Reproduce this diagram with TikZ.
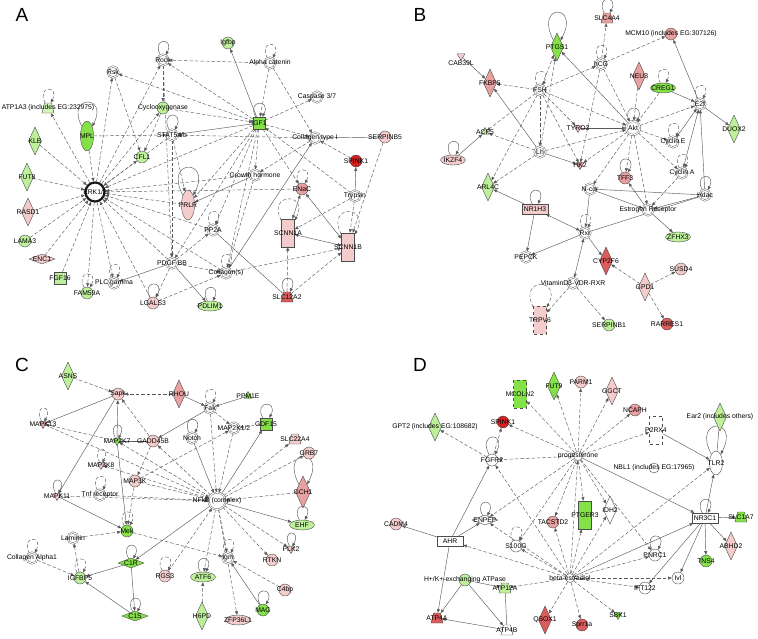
\documentclass[tikz,border=0pt]{standalone}
\usepackage{fontspec}
\setmainfont{Liberation Sans}
\usetikzlibrary{arrows.meta, shapes.geometric, backgrounds}
\usepackage{xcolor}
\definecolor{edgec}{RGB}{90,90,90}
\definecolor{gA}{RGB}{132,226,72}
\definecolor{gB}{RGB}{190,240,155}
\definecolor{gC}{RGB}{208,246,184}
\definecolor{pL}{RGB}{244,204,204}
\definecolor{pM}{RGB}{232,160,160}
\definecolor{rM}{RGB}{218,92,92}
\definecolor{rD}{RGB}{214,32,32}
\tikzset{
  lbl/.style  = {font=\fontsize{6.8}{7}\selectfont, inner sep=0pt, text=black},
  lb/.style   = {label={[lbl]center:#1}},
  gene/.style = {draw=gray!60!black, line width=0.4pt, inner sep=1pt},
  cn/.style   = {gene, circle, minimum size=12pt, fill=#1},
  en/.style   = {gene, ellipse, minimum width=25pt, minimum height=10pt, fill=#1},
  ven/.style  = {gene, ellipse, minimum width=13pt, minimum height=30pt, fill=#1},
  dn/.style   = {gene, diamond, minimum width=13pt, minimum height=28pt, fill=#1},
  hdn/.style  = {gene, diamond, minimum width=26pt, minimum height=10pt, fill=#1},
  sq/.style   = {gene, rectangle, minimum size=12pt, fill=#1},
  tall/.style = {gene, rectangle, minimum width=13pt, minimum height=28pt, fill=#1},
  flat/.style = {gene, rectangle, minimum width=26pt, minimum height=10pt, fill=#1},
  tri/.style  = {gene, regular polygon, regular polygon sides=3, inner sep=0pt,
                 minimum size=9pt, fill=#1},
  vtri/.style = {tri=#1, shape border rotate=180},
  trap/.style = {gene, trapezium, trapezium left angle=70, trapezium right angle=70,
                 trapezium stretches=true, inner sep=2pt,
                 minimum width=12pt, minimum height=10pt, fill=#1},
  grp/.style  = {circle, draw=gray!70!black, double=white, double distance=1pt,
                 line width=0.4pt, minimum size=11pt, inner sep=0pt, fill=white},
  sn/.style   = {circle, draw=gray!70!black, line width=0.4pt, minimum size=9pt,
                 inner sep=0pt, fill=white},
  hub/.style  = {circle, draw=gray!20!black, line width=2.2pt, minimum size=19pt,
                 inner sep=0pt, fill=white},
  ar/.style   = {-{Triangle[length=3.6pt,width=3pt]}, draw=edgec, line width=0.45pt},
  da/.style   = {ar, dash pattern=on 3.5pt off 2pt},
  ln/.style   = {draw=edgec, line width=0.45pt},
  bi/.style   = {{Triangle[length=3.6pt,width=3pt]}-{Triangle[length=3.6pt,width=3pt]},
                 draw=edgec, line width=0.45pt},
}

\begin{document}
\begin{tikzpicture}[
    x=1pt, y=-1pt,
    panel/.style={font=\fontsize{19}{22}\selectfont, inner sep=0pt}
]
\useasboundingbox (0,0) rectangle (758,638);

% A
\node[panel] (pa) at (22,15) {A};
\node[cn=gB, lb=Igfbp] (aigfbp) at (228,43) {};
\node[grp, lb=Rock] (arock) at (163,60) {};
\node[grp, lb=Alpha catenin] (aalpha) at (270,63) {};
\node[grp, lb=Rsk] (arsk) at (113,72) {};
\node[grp, lb=Caspase 3/7] (acasp) at (317,97) {};
\node[trap=gC, lb={ATP1A3 (includes EG:232975)}] (aatp) at (48,108) {};
\node[cn=gB, lb=Cyclooxygenase] (acox) at (163,108) {};
\node[sq=gA, lb=IGF1] (aigf1) at (259,123) {};
\node[ven=gA, lb=MPL] (ampl) at (87,136) {};
\node[dn=gB, lb=KLB] (aklb) at (35,141) {};
\node[grp, lb=STAT5a/b] (astat) at (172,135) {};
\node[grp, lb=Collagen type I] (acol1) at (315,138) {};
\node[cn=pL, lb=SERPINB5] (aserp) at (385,137) {};
\node[cn=gB, lb=CFL1] (acfl1) at (142,157) {};
\node[cn=rD, lb=SPINK1] (aspink) at (356,161) {};
\node[dn=gB, lb=FUT8] (afut8) at (27,177) {};
\node[hub, lb=ERK1/2] (aerk) at (95,192) {};
\node[grp, lb=Growth hormone] (agh) at (255,175) {};
\node[cn=pM, lb=ENaC] (aenac) at (302,189) {};
\node[grp, lb=Trypsin] (atryp) at (355,196) {};
\node[dn=pL, lb=RASD1] (arasd) at (28,212) {};
\node[ven=pL, lb=PRLR] (aprlr) at (188,205) {};
\node[grp, lb=PP2A] (app2a) at (213,230) {};
\node[tall=pL, lb=SCNN1A] (ascna) at (288,233) {};
\node[tall=pL, lb=SCNN1B] (ascnb) at (348,247) {};
\node[cn=gB, lb=LAMA3] (alama) at (25,241) {};
\node[hdn=pL, lb=ENC1] (aenc) at (42,259) {};
\node[grp, lb=PDGF BB] (apdgf) at (172,263) {};
\node[grp, lb=Collagen(s)] (acols) at (226,273) {};
\node[sq=gB, lb=FGF16] (afgf) at (60,278) {};
\node[grp, lb=PLC gamma] (aplc) at (114,283) {};
\node[cn=gB, lb=FAM59A] (afam) at (87,293) {};
\node[cn=pL, lb=LGALS3] (algal) at (153,303) {};
\node[en=gB, lb=PDLIM1] (apdlim) at (210,306) {};
\node[trap=rM, lb=SLC12A2] (aslc) at (287,297) {};

% B
\node[panel] (pb) at (420,15) {B};
\node[trap=pM, lb=SLC4A4] (bslc) at (607,18) {};
\node[dn=gA, lb=PTGS1] (bptgs) at (557,47) {};
\node[cn=pM, lb={MCM10 (includes EG:307126)}] (bmcm) at (671,34) {};
\node[vtri=pL, label={[lbl]below:CAB39L}] (bcab) at (461,56) {};
\node[grp, lb=hCG] (bhcg) at (601,64) {};
\node[dn=pM, lb=FKBP5] (bfkbp) at (490,83) {};
\node[dn=pM, lb=NEU3] (bneu) at (639,76) {};
\node[en=gA, lb=CREG1] (bcreg) at (663,88) {};
\node[grp, lb=FSH] (bfsh) at (540,90) {};
\node[grp, lb=E2f] (be2f) at (700,104) {};
\node[dn=gB, lb=DUOX2] (bduox) at (734,129) {};
\node[tri=gB, lb=ACP5] (bacp) at (485,132) {};
\node[vtri=pL, lb=TYRO3] (btyro) at (578,128) {};
\node[grp, minimum size=14pt, lb=Akt] (bakt) at (633,128) {};
\node[grp, lb=Cyclin E] (bcyce) at (673,142) {};
\node[grp, lb=Lh] (blh) at (540,152) {};
\node[en=pL, lb=IKZF4] (bikzf) at (453,160) {};
\node[vtri=pM, lb=HK2] (bhk) at (580,165) {};
\node[cn=pM, lb=TFF3] (btff) at (625,178) {};
\node[grp, lb=Cyclin A] (bcyca) at (682,173) {};
\node[dn=gB, lb=ARL4C] (barl) at (488,187) {};
\node[grp, lb=N-cor] (bncor) at (590,189) {};
\node[grp, lb=Hdac] (bhdac) at (705,195) {};
\node[flat=pL, lb=NR1H3] (bnr) at (535,209) {};
\node[grp, lb=Estrogen Receptor] (ber) at (648,210) {};
\node[grp, lb=Rxr] (brxr) at (585,233) {};
\node[en=gB, lb=ZFHX3] (bzfhx) at (678,237) {};
\node[grp, lb=PEPCK] (bpepck) at (526,257) {};
\node[dn=rM, lb=CYP2F6] (bcyp) at (606,261) {};
\node[cn=pL, lb=SUSD4] (bsusd) at (681,269) {};
\node[grp, lb=VitaminD3-VDR-RXR] (bvit) at (573,283) {};
\node[dn=pL, lb=GPD1] (bgpd) at (645,287) {};
\node[tall=pL, dashed, lb=TRPV6] (btrpv) at (540,320) {};
\node[cn=gB, lb=SERPINB1] (bserp) at (609,325) {};
\node[cn=rM, lb=RARRES1] (brar) at (667,324) {};

% C
\node[panel] (pc) at (22,365) {C};
\node[dn=gB, lb=ASNS] (casns) at (68,376) {};
\node[cn=pL, lb=Sapk] (csapk) at (118,394) {};
\node[dn=pM, lb=RHOU] (crhou) at (179,394) {};
\node[tri=gA, lb=PPM1E] (cppm) at (248,396) {};
\node[grp, lb=Fak] (cfak) at (210,408) {};
\node[vtri=pM, lb=MAPK13] (cmk13) at (43,424) {};
\node[grp, lb=MAP2K1/2] (cm2k12) at (234,428) {};
\node[sq=gA, lb=GDF15] (cgdf) at (266,424) {};
\node[grp, lb=Notch] (cnotch) at (192,438) {};
\node[vtri=gA, lb=MAP2K7] (cm2k7) at (117,441) {};
\node[cn=pL, lb=GADD45B] (cgadd) at (153,441) {};
\node[trap=pL, lb=SLC22A4] (cslc) at (295,439) {};
\node[cn=pL, lb=GRB7] (cgrb) at (309,453) {};
\node[vtri=pL, lb=MAP3K8] (cm3k8) at (101,465) {};
\node[cn=pL, lb=MAP3K] (cm3k) at (135,481) {};
\node[dn=pM, minimum width=15pt, minimum height=32pt, lb=GCH1] (cgch) at (303,492) {};
\node[vtri=pL, lb=MAPK11] (cmk11) at (57,496) {};
\node[grp, lb=Tnf receptor] (ctnf) at (100,495) {};
\node[grp, minimum size=17pt, lb={NFkB (complex)}] (cnfkb) at (217,501) {};
\node[en=gB, lb=EHF] (cehf) at (302,525) {};
\node[cn=gA, lb=Mek] (cmek) at (127,531) {};
\node[grp, lb=Laminin] (clam) at (73,538) {};
\node[vtri=pL, lb=PLK2] (cplk) at (291,549) {};
\node[grp, lb=Collagen Alpha1] (ccol) at (32,558) {};
\node[grp, lb=Igm] (cigm) at (228,558) {};
\node[cn=pL, lb=RTKN] (crtkn) at (272,560) {};
\node[hdn=gA, lb=C1R] (cc1r) at (131,563) {};
\node[cn=pL, lb=RGS3] (crgs) at (165,576) {};
\node[en=gB, lb=ATF6] (catf) at (203,577) {};
\node[cn=gB, lb=IGFBP5] (cigfbp) at (80,578) {};
\node[cn=pL, lb=C4bp] (cc4bp) at (285,590) {};
\node[cn=gA, lb=MAG] (cmag) at (263,610) {};
\node[hdn=gA, lb=C1S] (cc1s) at (135,616) {};
\node[dn=gB, lb=H6PD] (ch6pd) at (202,616) {};
\node[en=pL, lb=ZFP36L1] (czfp) at (238,620) {};

% D
\node[panel] (pd) at (420,365) {D};
\node[tall=gA, dashed, lb=MCOLN2] (dmcoln) at (520,394) {};
\node[dn=gA, lb=FUT9] (dfut) at (554,386) {};
\node[cn=pL, lb=PARM1] (dparm) at (581,382) {};
\node[dn=pL, lb=GGCT] (dggct) at (612,391) {};
\node[cn=pM, lb=NCAPH] (dncaph) at (635,410) {};
\node[dn=gB, lb={GPT2 (includes EG:108682)}] (dgpt) at (435,427) {};
\node[dn=gB, lb={Ear2 (includes others)}] (dear) at (720,417) {};
\node[cn=rD, lb=SPINK1] (dspink) at (503,422) {};
\node[tall=white, dashed, lb=P2RX4] (dp2rx) at (656,430) {};
\node[sn, lb=progesterone] (dprog) at (578,456) {};
\node[cn=white, lb=FGFR2] (dfgfr) at (492,460) {};
\node[cn=white, minimum size=10pt, lb={NBL1 (includes EG:17965)}] (dnbl) at (654,468) {};
\node[ven=white, minimum height=24pt, lb=TLR2] (dtlr) at (716,463) {};
\node[cn=pL, lb=CADM4] (dcadm) at (396,524) {};
\node[hdn=white, lb=ENPEP] (denpep) at (485,520) {};
\node[cn=pM, lb=TACSTD2] (dtacs) at (553,522) {};
\node[tall=gA, lb=PTGER3] (dptger) at (585,515) {};
\node[dn=white, lb=IDH2] (didh) at (610,510) {};
\node[flat=white, lb=NR3C1] (dnr3c1) at (705,518) {};
\node[trap=gA, lb=SLC1A7] (dslc) at (741,517) {};
\node[flat=white, lb=AHR] (dahr) at (450,541) {};
\node[cn=white, lb=S100G] (ds100) at (516,546) {};
\node[dn=pL, lb=ABHD2] (dabhd) at (731,546) {};
\node[cn=white, lb=PNRC1] (dpnrc) at (655,555) {};
\node[cn=gA, lb=TNS4] (dtns) at (706,561) {};
\node[sn, lb=beta-estradiol] (dbeta) at (570,578) {};
\node[cn=gB, lb={H+/K+-exchanging ATPase}] (dhk) at (465,580) {};
\node[cn=white, lb=Ivl] (divl) at (678,578) {};
\node[trap=gB, lb=ATP12A] (datp12) at (505,588) {};
\node[cn=white, lb=IFT122] (dift) at (645,588) {};
\node[trap=rM, lb=ATP4A] (datp4a) at (437,618) {};
\node[dn=rM, lb=QSOX1] (dqsox) at (545,620) {};
\node[cn=rM, lb=Sprr1a] (dsprr) at (582,625) {};
\node[vtri=gA, lb=SBK1] (dsbk) at (618,615) {};
\node[trap=white, lb=ATP4B] (datp4b) at (507,630) {};

\begin{scope}[on background layer]
% dashed relations
\foreach \s/\t in {aklb/aerk, afut8/aerk, arasd/aerk, alama/aerk, aenc/aerk, afgf/aerk,
    aerk/afam, aerk/aplc, algal/aerk, apdgf/aerk, acols/aerk, app2a/aerk, aprlr/aerk,
    agh/aerk, aenac/aerk, aigf1/aerk, aerk/acox, aerk/arsk, aerk/arock, aerk/aatp,
    ampl/aerk, astat/aerk, aerk/acfl1, arsk/acfl1, aalpha/arock, aigf1/arock, aigf1/arsk,
    aalpha/aigf1, aalpha/acol1, aigf1/acasp, acox/aigf1, ampl/astat, acol1/astat,
    aigf1/acol1, aspink/acol1, atryp/aigf1, atryp/ascna, atryp/ascnb, aserp/ascnb,
    aslc/ascna, aslc/ascnb, aigf1/agh, aigf1/aprlr, aigf1/app2a, aigf1/acols, aigf1/apdgf,
    aigf1/aenac, apdgf/algal, apdgf/acols, apdgf/app2a, arock/apdgf, astat/apdgf,
    algal/acols, acols/ascnb, astat/aprlr, arock/acox, acox/acfl1, agh/acols, acol1/agh,
    bhcg/bslc, bhcg/bmcm, bfsh/bptgs, blh/bptgs, bfsh/bfkbp, bfsh/bhcg, bfsh/bacp,
    blh/bacp, bfsh/bakt, blh/bakt, bhcg/bakt, bfsh/blh, bfsh/btyro, bfsh/bhk, bakt/bhk,
    bhcg/bhk, bfsh/barl, blh/barl, bneu/bakt, bcreg/bakt, bakt/be2f, bakt/bcyce,
    bakt/bcyca, bakt/btff, bakt/ber, bcyca/ber, bgpd/bcyp, bgpd/bsusd, bgpd/brar,
    bvit/bserp, bvit/btrpv, bakt/bncor,
    casns/csapk, crhou/csapk, cgadd/csapk, cfak/cm2k12, cfak/cnfkb, cm2k12/cnfkb,
    cgdf/cm2k12, cm2k7/cmk13, cgadd/cm3k, cm3k/cm2k12, cnfkb/cgadd, cm3k/cnfkb, cm3k/cmek,
    cmk13/cnfkb, ctnf/cnfkb, cmk11/cnfkb, cnfkb/cslc, cnfkb/cgrb, cgch/cnfkb, cnfkb/cplk,
    cnfkb/crtkn, cnfkb/cigm, cnfkb/catf, cnfkb/czfp, crgs/cnfkb, cmek/cigm, cc4bp/cigm,
    ch6pd/catf, clam/cmek, cigfbp/clam, ccol/cigfbp, cnfkb/cm2k7, cnfkb/cm3k8,
    dprog/dmcoln, dprog/dfut, dprog/dparm, dprog/dggct, dprog/dncaph, dprog/dp2rx,
    dprog/dspink, dprog/dfgfr, dfgfr/dgpt, dfgfr/dspink, dprog/denpep, dprog/ds100,
    dprog/dtacs, dprog/dptger, dprog/didh, dprog/dpnrc, dbeta/dahr, dbeta/ds100,
    dbeta/denpep, dbeta/dtacs, dbeta/dptger, dbeta/didh, dbeta/dpnrc, dbeta/divl,
    dbeta/dift, dbeta/datp12, dbeta/dqsox, dbeta/dsprr, dbeta/dsbk, dbeta/dfgfr,
    dbeta/dprog, dbeta/dtlr}
  \draw[da] (\s) -- (\t);
% solid relations
\foreach \s/\t in {aigf1/aigfbp, aigf1/astat, acols/acol1, atryp/aspink, agh/aprlr,
    apdgf/aplc, apdgf/apdlim,
    bakt/bptgs, bcab/bfkbp, blh/bfkbp, bikzf/bacp, btyro/bakt, blh/bhk, bcreg/be2f,
    be2f/bmcm, be2f/bduox, bhdac/be2f, bhdac/ber, bncor/ber, ber/btff, ber/bzfhx,
    bncor/brxr, bnr/barl, bnr/bpepck, brxr/bpepck, brxr/bcyp,
    crhou/cfak, cppm/cfak, csapk/cmk13, cm2k7/csapk, csapk/cmk11, cfak/cgadd,
    cnfkb/cgdf, cnotch/cnfkb, cm2k7/cmek, cmk11/cmek, cnfkb/cc1r, cnfkb/cehf,
    cmag/cigm, cc1r/cigfbp, cc1s/cigfbp, cc1r/cc1s,
    dprog/dnr3c1, dp2rx/dtlr, dnr3c1/dtlr, dahr/dfgfr, dahr/denpep, dahr/dcadm,
    dahr/datp4a, dbeta/dnr3c1, dnr3c1/dslc, dnr3c1/dabhd, dnr3c1/dtns, dnr3c1/divl,
    dnr3c1/dift, dhk/datp4a, dhk/datp4b, dhk/datp12, datp4b/datp4a}
  \draw[ar] (\s) -- (\t);
\foreach \s/\t in {aserp/acol1, app2a/aslc, bncor/bhdac, brxr/bhdac, cm2k7/cgadd,
    dear/dtlr, datp12/datp4b}
  \draw[ln] (\s) -- (\t);
\foreach \s/\t in {aenac/ascna, aenac/ascnb, ascna/ascnb, bcyce/be2f, bcyca/be2f,
    bnr/brxr, brxr/bvit}
  \draw[bi] (\s) -- (\t);
% self loops
\foreach \n/\d in {arock/20pt, aigf1/20pt, ampl/36pt, astat/22pt, aprlr/42pt,
    algal/20pt, apdlim/20pt, aslc/20pt, bslc/20pt, bptgs/42pt, bnr/20pt, btff/20pt,
    bakt/20pt, bhdac/20pt, bikzf/20pt, cm2k7/20pt, cnotch/20pt, cgdf/20pt, cgch/42pt,
    cmk11/20pt, cehf/20pt, cc1r/20pt, cc1s/20pt, catf/20pt, cmag/20pt, cplk/20pt,
    dfgfr/26pt, dtlr/42pt, denpep/20pt, dnr3c1/20pt, dpnrc/20pt}
  \draw[ar] (\n) to[out=118, in=62, min distance=\d] (\n);
\foreach \n/\d in {aalpha/20pt, aatp/20pt, aenac/20pt, app2a/20pt, ascna/32pt,
    ascnb/34pt, acols/20pt, aplc/20pt, afam/20pt, bhcg/20pt, bfsh/20pt, bcreg/20pt,
    be2f/20pt, bcyce/20pt, bcyca/20pt, brxr/20pt, btrpv/34pt, cfak/20pt, cmk13/20pt,
    cm3k8/20pt, ctnf/20pt, cmek/20pt, cigm/20pt, ccol/20pt, cigfbp/20pt, crgs/20pt,
    ds100/20pt}
  \draw[da] (\n) to[out=118, in=62, min distance=\d] (\n);
\end{scope}

\end{tikzpicture}
\end{document}
